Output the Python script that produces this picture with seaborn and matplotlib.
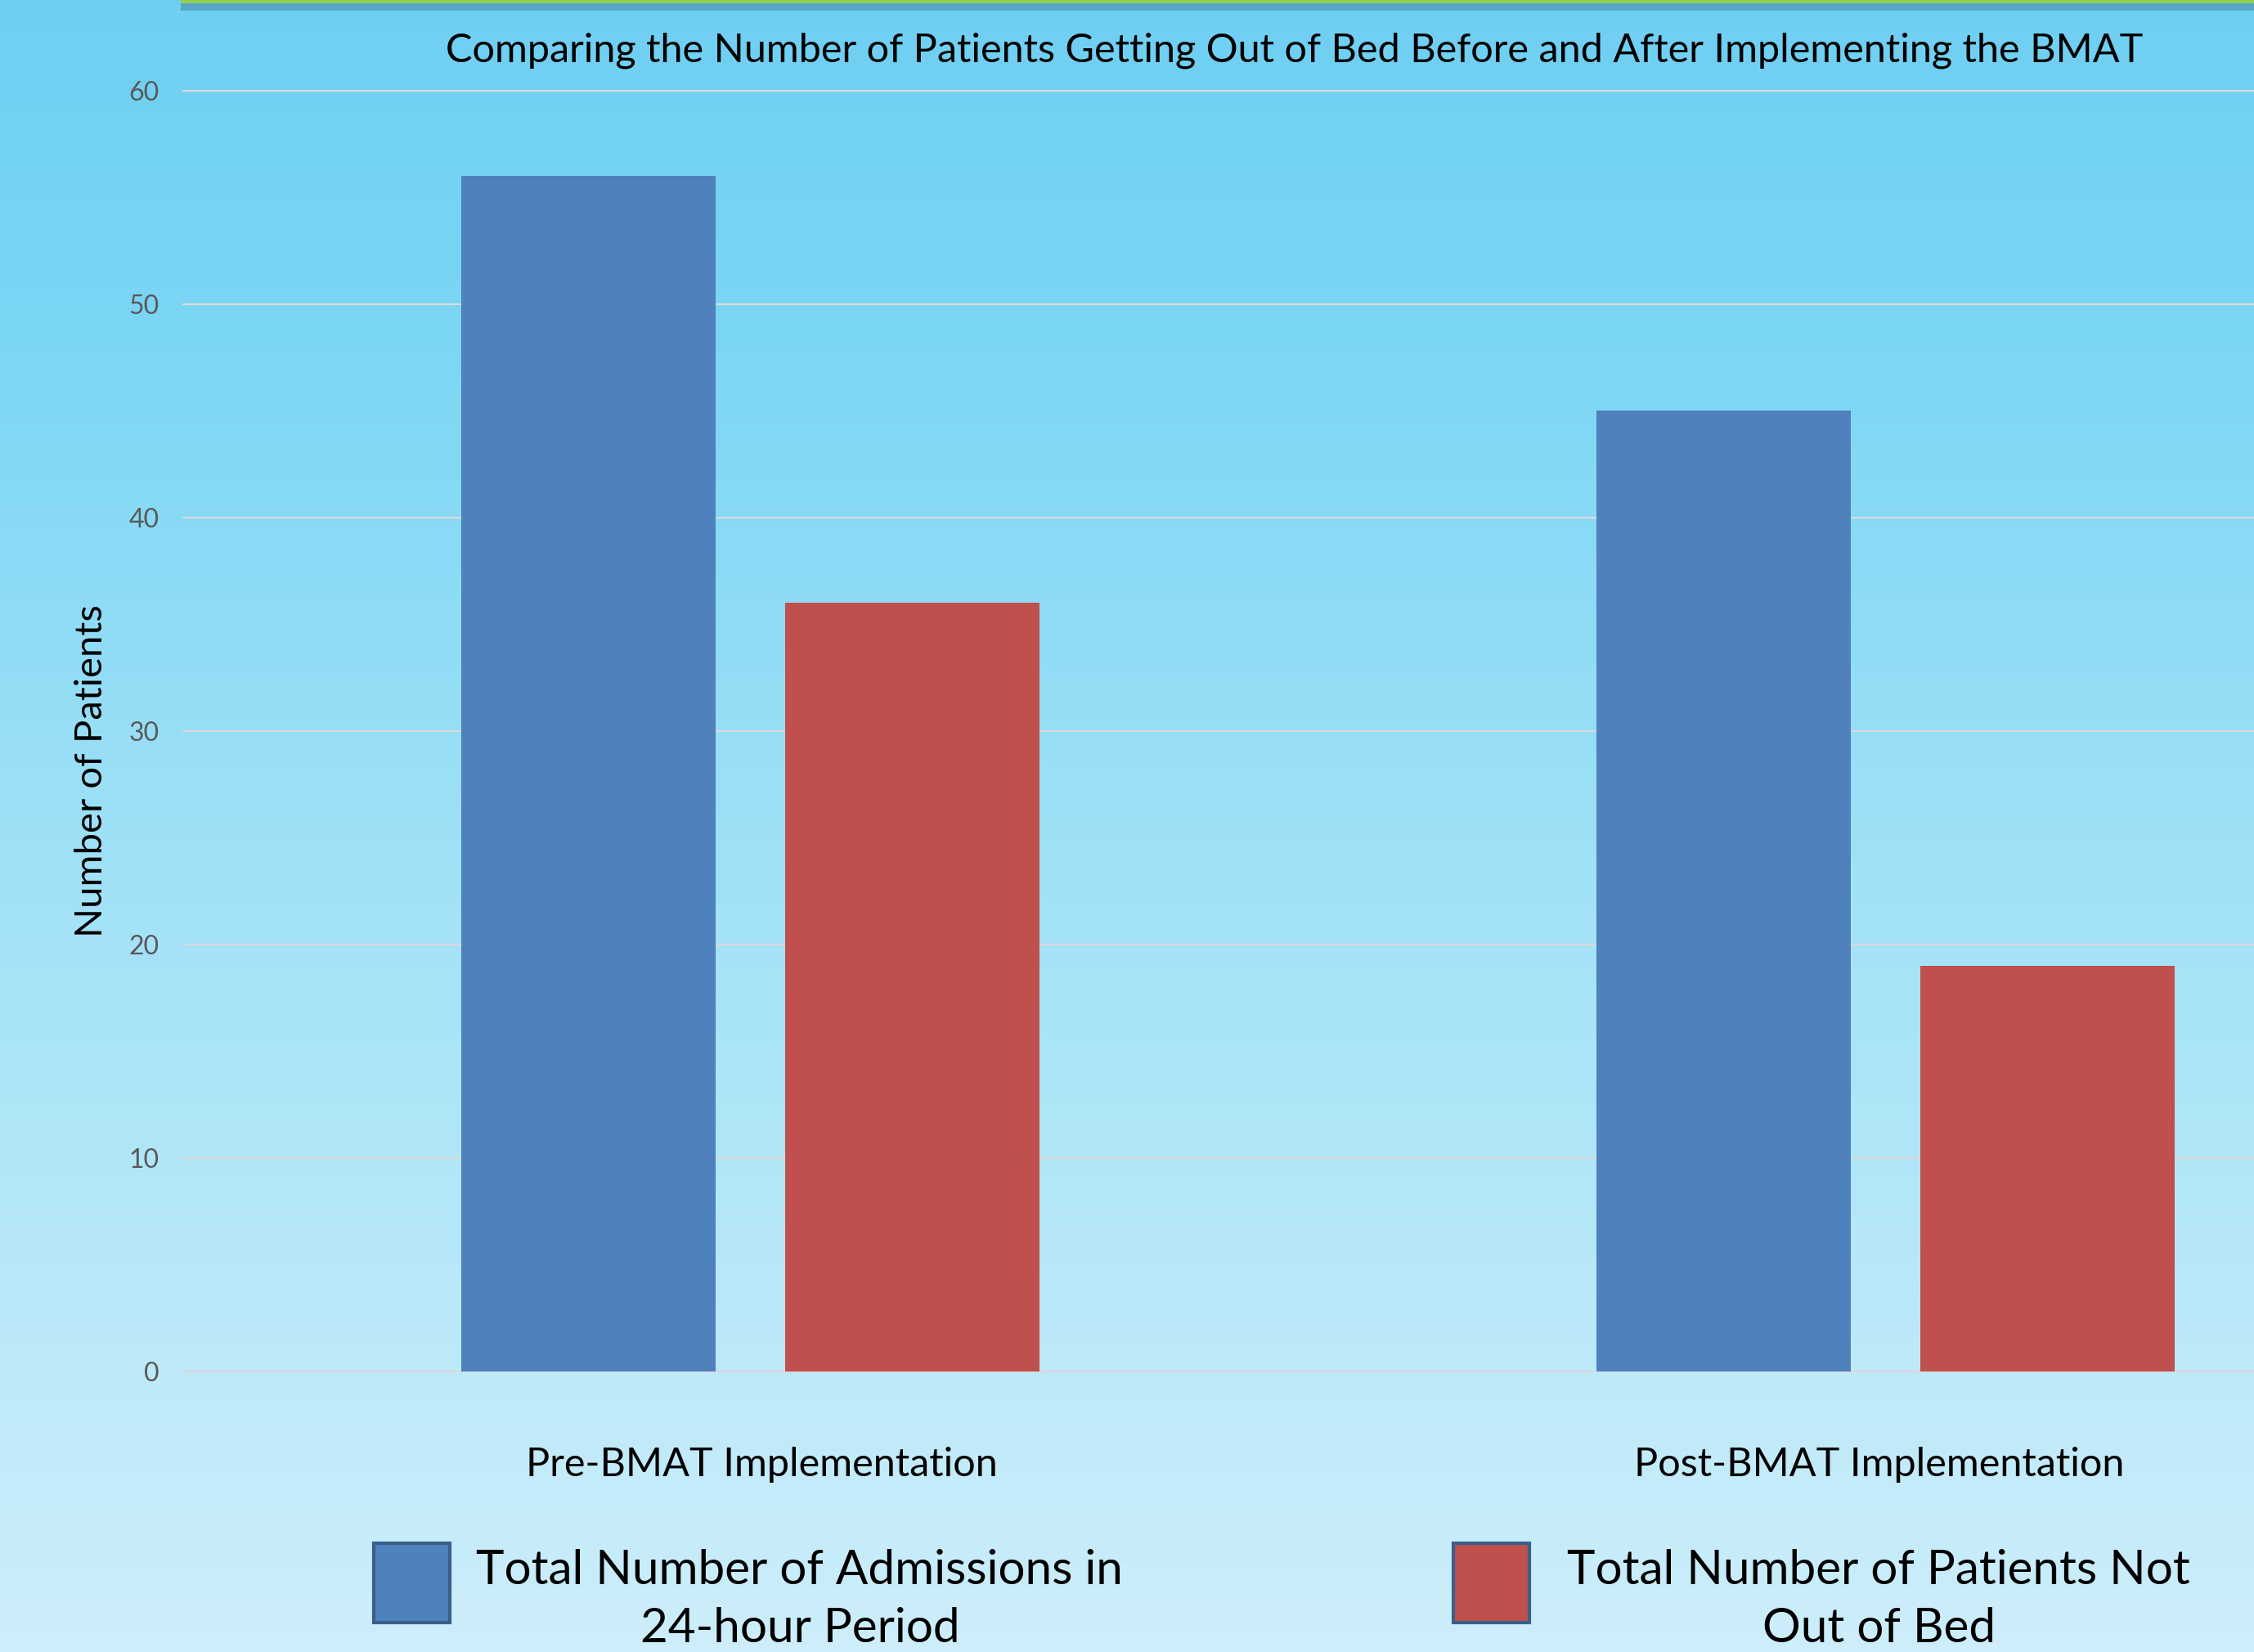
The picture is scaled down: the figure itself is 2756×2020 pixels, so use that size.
import numpy as np
import pandas as pd
import matplotlib
matplotlib.use('Agg')
import matplotlib.pyplot as plt
import seaborn as sns
from matplotlib.colors import LinearSegmentedColormap
from matplotlib.patches import Patch
from matplotlib.transforms import ScaledTranslation

# -----------------------
# data
phases = ['Pre-BMAT Implementation', 'Post-BMAT Implementation']
series = ['Total Number of Admissions in\n24-hour Period',
          'Total Number of Patients Not\nOut of Bed']
admissions = [56, 45]
not_out_of_bed = [36, 19]
y_ticks = [0, 10, 20, 30, 40, 50, 60]
title = ('Comparing the Number of Patients Getting Out of Bed '
         'Before and After Implementing the BMAT')

colors = ['#4f81bd', '#c0504d']

df = pd.DataFrame({
    'phase': phases * 2,
    'series': [series[0]] * 2 + [series[1]] * 2,
    'patients': admissions + not_out_of_bed,
})

# -----------------------

sns.set_style('white')
plt.rcParams['font.family'] = ['Lato', 'DejaVu Sans']
plt.rcParams['text.color'] = 'black'
plt.rcParams['axes.labelcolor'] = 'black'

W, H = 2756, 2020
fig = plt.figure(figsize=(W / 100, H / 100), dpi=100)

# sky gradient background + green strip at the top
bg = fig.add_axes([0, 0, 1, 1], zorder=-10)
cmap = LinearSegmentedColormap.from_list('sky', [(0, '#cdeefa'), (0.45, '#a3e2f7'), (0.8, '#7bd6f4'), (1, '#6fcff2')])
grad = np.linspace(0, 1, 256).reshape(-1, 1)
bg.imshow(grad, cmap=cmap, aspect='auto', extent=[0, 1, 0, 1], origin='lower')
bg.plot([221 / W, 1], [1 - 8 / H, 1 - 8 / H], color='#2f5d75', lw=7, alpha=0.35, solid_capstyle='butt')
bg.plot([221 / W, 1], [1 - 2 / H, 1 - 2 / H], color='#92d050', lw=3, solid_capstyle='butt')
bg.set_xlim(0, 1)
bg.set_ylim(0, 1)
bg.axis('off')

ax = fig.add_axes([224 / W, 1 - 1677 / H, 1 - 224 / W, (1677 - 111) / H])
ax.set_facecolor('none')

sns.barplot(data=df, x='phase', y='patients', hue='series', palette=colors,
            width=0.571, gap=0.215, saturation=1, legend=False, ax=ax,
            linewidth=0, edgecolor='none', zorder=3)

ax.set_xlim(-0.5, 1.3246)
ax.set_ylim(0, 60)
ax.set_yticks(y_ticks)
ax.set(xlabel=None)
ax.set_ylabel('Number of Patients', fontsize=34, color='black')
ax.yaxis.set_label_coords(-0.036, 0.469)

ax.yaxis.grid(True, color='#d9d9d9', lw=1.6)
ax.set_axisbelow(True)
for gl in ax.get_ygridlines():
    gl.set_clip_on(False)
for s in ax.spines.values():
    s.set_visible(False)

ax.tick_params(axis='y', length=0, pad=21, labelsize=23, labelcolor='#595959')
ax.tick_params(axis='x', length=0, pad=66, labelsize=35, labelcolor='black')
for lbl, dx in zip(ax.get_xticklabels(), [14, -8]):
    lbl.set_transform(lbl.get_transform() + ScaledTranslation(dx / 100, 0, fig.dpi_scale_trans))

fig.text(1583 / W, 1 - 62 / H, title, ha='center', va='center', fontsize=35, color='black')

# legend, one block per series
anchors = [457, 1777]
text_pads = [0.55, 0.79]
for lab, col, x0, tp in zip(series, colors, anchors, text_pads):
    h = Patch(facecolor=col, edgecolor='#3a5f8b', linewidth=3)
    leg = fig.legend([h], [lab], loc='center left', bbox_to_anchor=(x0 / W, 1 - 1956 / H),
                     frameon=False, fontsize=42, handlelength=1.6, handleheight=2.19,
                     handletextpad=tp, borderpad=0, borderaxespad=0, labelcolor='black')
    for t in leg.get_texts():
        t.set_multialignment('center')
        t.set_linespacing(1.44)
    for p in leg.get_patches():
        p.set_y(p.get_y() + 17)

fig.savefig('out.png', dpi=100)
